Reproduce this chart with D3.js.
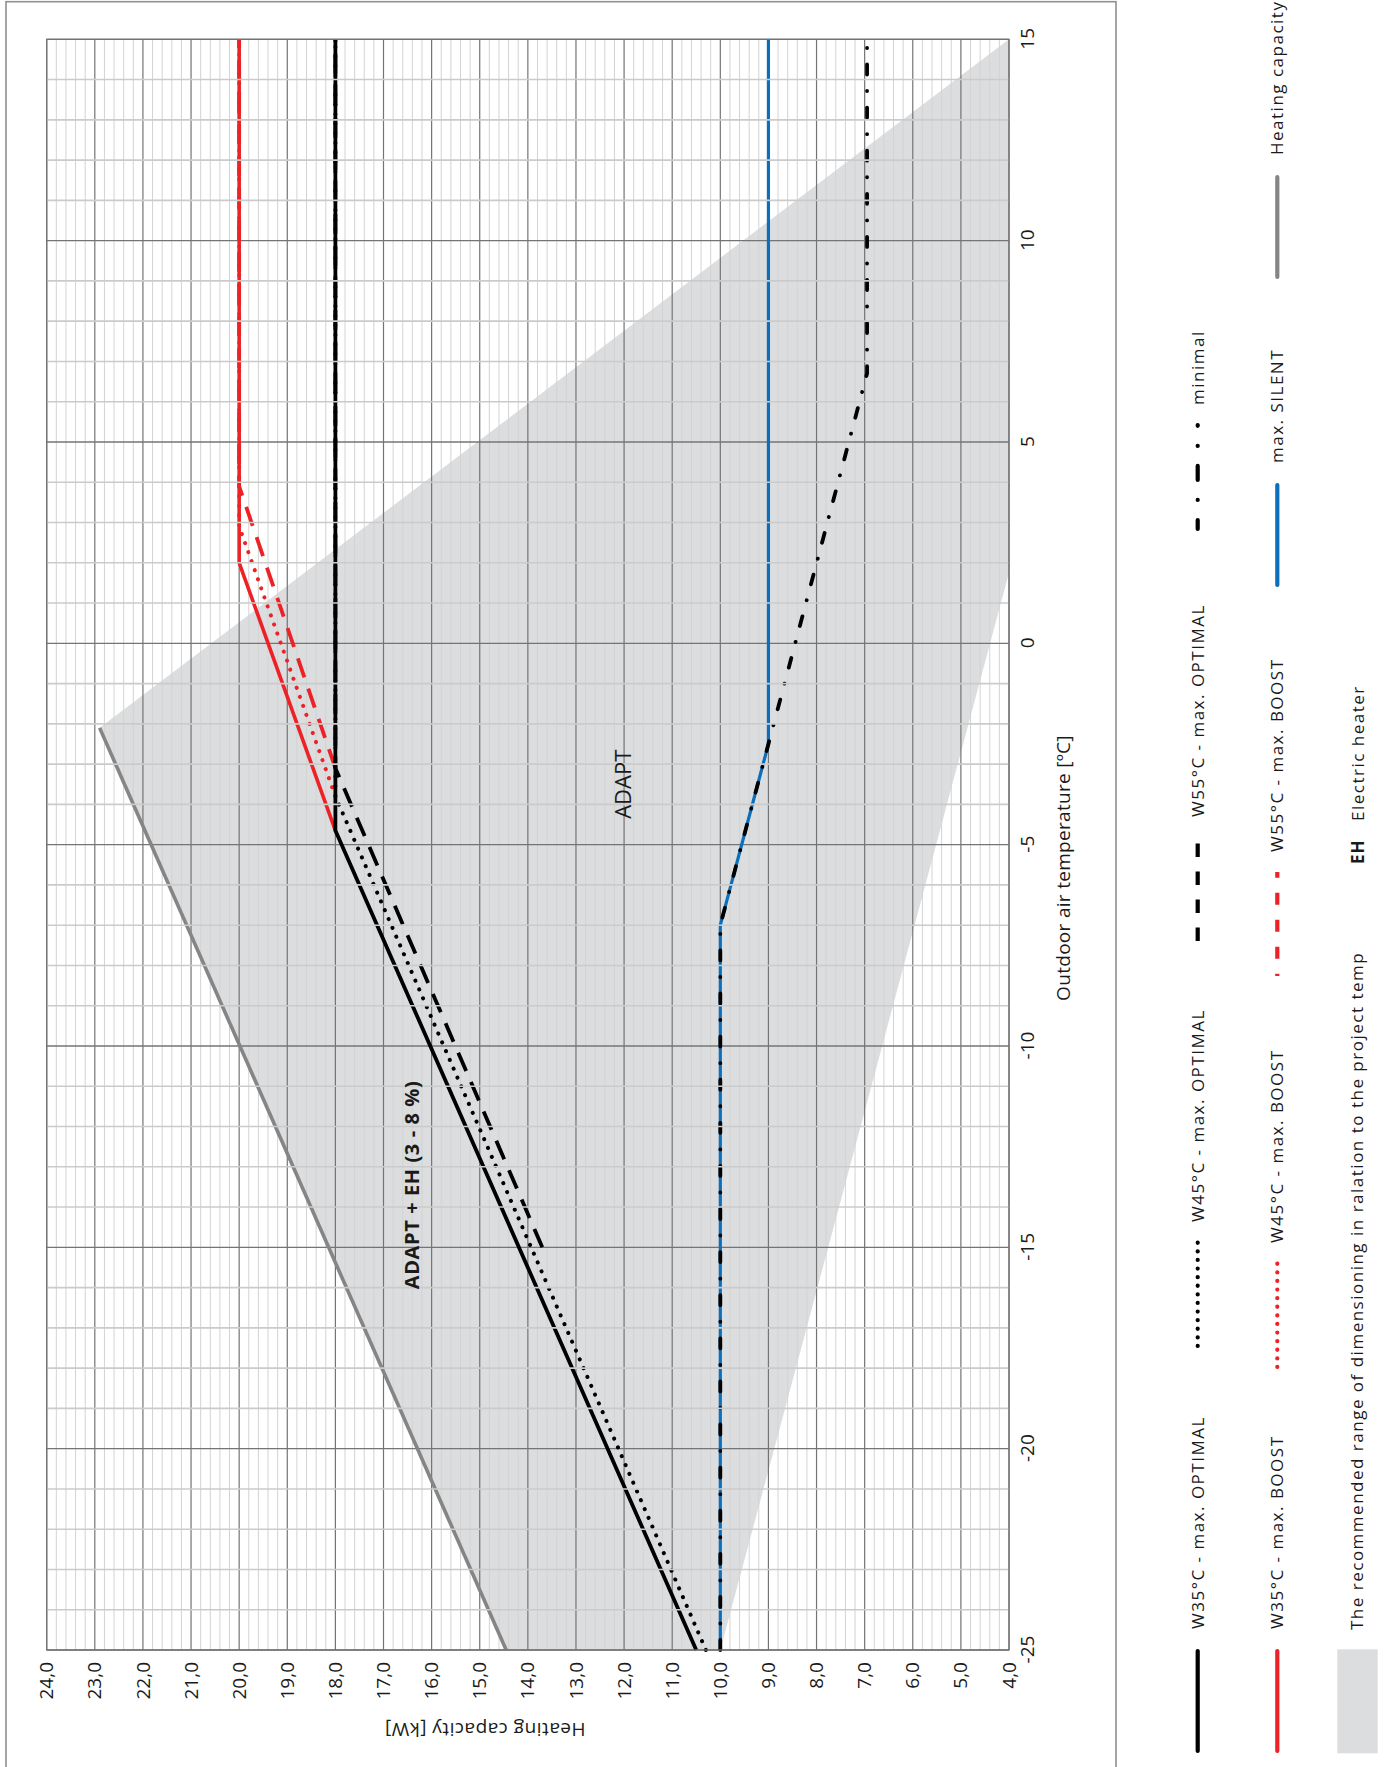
<!DOCTYPE html>
<html>
<head>
<meta charset="utf-8">
<script src="https://cdn.jsdelivr.net/npm/d3@7"></script>
<style>
  html, body { margin: 0; padding: 0; background: #fff; }
  svg { display: block; }
  text { font-family: "Open Sans", "Noto Sans", sans-serif; fill: #1a1a1a; }
</style>
</head>
<body>
<svg id="chart" width="1385" height="1767"></svg>
<script>
// ---- axis ticks ----
const temperatureTicks = [-25, -20, -15, -10, -5, 0, 5, 10, 15];
const capacityTicks = [24, 23, 22, 21, 20, 19, 18, 17, 16, 15, 14, 13, 12, 11, 10, 9, 8, 7, 6, 5, 4];
const capacityTickLabels = ["24,0", "23,0", "22,0", "21,0", "20,0", "19,0", "18,0", "17,0", "16,0", "15,0",
  "14,0", "13,0", "12,0", "11,0", "10,0", "9,0", "8,0", "7,0", "6,0", "5,0", "4,0"];

// ---- series: outdoor temperature [°C] and heating capacity [kW] ----
const w35OptimalT = [-25, -4.65, 15];
const w35OptimalC = [10.5, 18, 18];
const w45OptimalT = [-25, -3.8, 15];
const w45OptimalC = [10.3, 18, 18];
const w55OptimalT = [-15, -3.1, 15];
const w55OptimalC = [13.7, 18, 18];
const w35BoostT = [-4.65, 2, 15];
const w35BoostC = [18, 20, 20];
const w45BoostT = [-3.8, 2.9, 15];
const w45BoostC = [18, 20, 20];
const w55BoostT = [-3.1, 3.9, 15];
const w55BoostC = [18, 20, 20];
const minimalT = [-25, -7, -2.5, 6.7, 15];
const minimalC = [10, 10, 9, 6.95, 6.95];
const silentT = [-25, -7, -2.5, 15];
const silentC = [10, 10, 9, 9];
const capacityLimitT = [-25, -2.1];
const capacityLimitC = [14.45, 22.9];
// recommended dimensioning range (shaded area)
const rangeT = [-25, -2.1, 15, 1.75, -25];
const rangeC = [14.45, 22.9, 4, 4, 10.0];

// ---- colours ----
const BLACK = "#000000", RED = "#ed2226", BLUE = "#0d6fba", GREY = "#858585", SHADE = "#dcdddf";

// The chart is laid out upright (temperature left→right, capacity bottom→top)
// and the whole drawing is turned a quarter turn counter-clockwise.
const svg = d3.select("#chart");
const root = svg.append("g").attr("transform", "translate(0,1767) rotate(-90)");

const x = d3.scaleLinear().domain([-25, 15]).range([117, 1727.7]);
const y = d3.scaleLinear().domain([4, 24]).range([1009, 46.7]);
const line = d3.line().x(d => x(d[0])).y(d => y(d[1]));

// outer frame
root.append("rect")
  .attr("x", -10).attr("y", 6).attr("width", 1775.3).attr("height", 1110)
  .attr("fill", "none").attr("stroke", "#8f8f8f").attr("stroke-width", 1.6);

const plot = root.append("g");
const [x0, x1] = x.range();
const [yb, yt] = y.range();

// shaded recommended range
plot.append("path")
  .attr("d", line(d3.zip(rangeT, rangeC)) + "Z")
  .attr("fill", SHADE);

// capacity grid (every 0.2 kW, darker every 1 kW)
const capGrid = d3.range(0, 101).map(i => +(4 + i * 0.2).toFixed(1));
plot.append("g").selectAll("line")
  .data(capGrid.filter(c => Math.abs(c - Math.round(c)) > 1e-6))
  .join("line")
  .attr("x1", x0).attr("x2", x1)
  .attr("y1", d => y(d)).attr("y2", d => y(d))
  .attr("stroke", "#d3d3d3").attr("stroke-width", 1);
plot.append("g").selectAll("line")
  .data(capGrid.filter(c => Math.abs(c - Math.round(c)) <= 1e-6))
  .join("line")
  .attr("x1", x0).attr("x2", x1)
  .attr("y1", d => y(d)).attr("y2", d => y(d))
  .attr("stroke", "#747474").attr("stroke-width", 1.2);

// temperature grid, every 5 °C
const tempGrid = d3.range(-25, 16, 1);
plot.append("g").selectAll("line")
  .data(tempGrid.filter(t => t % 5 === 0))
  .join("line")
  .attr("x1", d => x(d)).attr("x2", d => x(d))
  .attr("y1", yt).attr("y2", yb)
  .attr("stroke", "#747474").attr("stroke-width", 1.3);

// ---- series lines ----
const seriesLayer = plot.append("g").attr("fill", "none");
function drawSeries(T, C, color, width, dash, cap) {
  seriesLayer.append("path")
    .attr("d", line(d3.zip(T, C)))
    .attr("stroke", color)
    .attr("stroke-width", width)
    .attr("stroke-dasharray", dash || null)
    .attr("stroke-linecap", cap || "butt")
    .attr("stroke-linejoin", "round");
}
drawSeries(capacityLimitT, capacityLimitC, GREY, 3.6);
drawSeries(silentT, silentC, BLUE, 3.2);
drawSeries(minimalT, minimalC, BLACK, 3.8, "10,16.5,0.1,16.5", "round");
drawSeries(w55BoostT, w55BoostC, RED, 3.8, "20,12");
drawSeries(w45BoostT, w45BoostC, RED, 4, "0.1,9.5", "round");
drawSeries(w35BoostT, w35BoostC, RED, 3.6);
drawSeries(w55OptimalT, w55OptimalC, BLACK, 3.8, "20,12");
drawSeries(w45OptimalT, w45OptimalC, BLACK, 4, "0.1,9.5", "round");
drawSeries(w35OptimalT, w35OptimalC, BLACK, 3.8);

// temperature grid, every 1 °C (drawn across the lines)
plot.append("g").selectAll("line")
  .data(tempGrid.filter(t => t % 5 !== 0))
  .join("line")
  .attr("x1", d => x(d)).attr("x2", d => x(d))
  .attr("y1", yt).attr("y2", yb)
  .attr("stroke", "#cbcbcb").attr("stroke-width", 1.6);

// plot border
plot.append("rect")
  .attr("x", x0).attr("y", yt).attr("width", x1 - x0).attr("height", yb - yt)
  .attr("fill", "none").attr("stroke", "#747474").attr("stroke-width", 1.3);

// ---- axes ----
const xAxis = d3.axisBottom(x).tickValues(temperatureTicks).tickSize(0).tickPadding(12)
  .tickFormat(d => String(d));
const gx = root.append("g").attr("transform", `translate(0,${yb})`).call(xAxis);
gx.select(".domain").remove();
gx.selectAll("text").attr("font-size", 19).attr("font-family", null).attr("fill", "#1a1a1a");

const labelOf = new Map(capacityTicks.map((c, i) => [c, capacityTickLabels[i]]));
const yAxis = d3.axisLeft(y).tickValues(capacityTicks).tickSize(0).tickPadding(12)
  .tickFormat(d => labelOf.get(d));
const gy = root.append("g").attr("transform", `translate(${x0},0)`).call(yAxis);
gy.select(".domain").remove();
gy.selectAll("text").attr("font-size", 19).attr("font-family", null).attr("fill", "#1a1a1a");

root.append("text")
  .attr("x", 899).attr("y", 1070)
  .attr("text-anchor", "middle").attr("font-size", 19).attr("letter-spacing", 0.3)
  .text("Outdoor air temperature [ºC]");

root.append("text")
  .attr("transform", "translate(44,485) rotate(-90)")
  .attr("text-anchor", "middle").attr("font-size", 19).attr("letter-spacing", 0.5)
  .text("Heating capacity [kW]");

// ---- region labels ----
root.append("text")
  .attr("x", x(-3.5)).attr("y", y(11.85))
  .attr("text-anchor", "middle").attr("font-size", 22)
  .text("ADAPT");
root.append("text")
  .attr("x", x(-13.45)).attr("y", y(16.26))
  .attr("text-anchor", "middle").attr("font-size", 20).attr("font-weight", 700)
  .attr("letter-spacing", 0.6)
  .text("ADAPT + EH (3 - 8 %)");

// ---- legend ----
const legendLabels = ["W35°C - max. OPTIMAL", "W45°C - max. OPTIMAL", "W55°C - max. OPTIMAL", "minimal",
  "W35°C - max. BOOST", "W45°C - max. BOOST", "W55°C - max. BOOST", "max. SILENT", "Heating capacity"];
const legendColors = [BLACK, BLACK, BLACK, BLACK, RED, RED, RED, BLUE, GREY];
const legendDashes = [null, "0.1,8.5", "13.5,14.5", "9,20,0.1,20,14,20,0.1,20,9", null, "0.1,8.5", "12,15", null, null];
const legendCaps = ["round", "round", "butt", "round", "round", "round", "butt", "round", "round"];
const legendOffsets = [0, 0, 0, 0, 0, 0, 9.7, 0, 0];
const legendRow = [1197.7, 1197.7, 1197.7, 1197.7, 1277.3, 1277.3, 1277.3, 1277.3, 1277.3];
const legendStart = [14, 421, 826, 1238, 14, 400, 791, 1180, 1488];

const legend = root.append("g");
legendLabels.forEach((label, i) => {
  const u0 = legendStart[i], v = legendRow[i];
  legend.append("line")
    .attr("x1", u0 + (legendCaps[i] === "round" && !legendDashes[i] ? 2 : 0))
    .attr("x2", u0 + 104 - (legendCaps[i] === "round" && !legendDashes[i] ? 2 : 0))
    .attr("y1", v).attr("y2", v)
    .attr("stroke", legendColors[i]).attr("stroke-width", 4.2)
    .attr("stroke-linecap", legendCaps[i])
    .attr("stroke-dasharray", legendDashes[i])
    .attr("stroke-dashoffset", legendOffsets[i]);
  legend.append("text")
    .attr("x", u0 + 124).attr("y", v + 6)
    .attr("font-size", 17).attr("letter-spacing", 1.5)
    .text(label);
});

legend.append("rect")
  .attr("x", 13.7).attr("y", 1337.3).attr("width", 104).attr("height", 40.4)
  .attr("fill", SHADE);
legend.append("text")
  .attr("x", 137).attr("y", 1363)
  .attr("font-size", 17).attr("letter-spacing", 1.5)
  .text("The recommended range of dimensioning in ralation to the project temp");
legend.append("text")
  .attr("x", 903).attr("y", 1364)
  .attr("font-size", 17).attr("font-weight", 700).attr("letter-spacing", 1)
  .text("EH");
legend.append("text")
  .attr("x", 946).attr("y", 1364)
  .attr("font-size", 17).attr("letter-spacing", 1.5)
  .text("Electric heater");
</script>
</body>
</html>
